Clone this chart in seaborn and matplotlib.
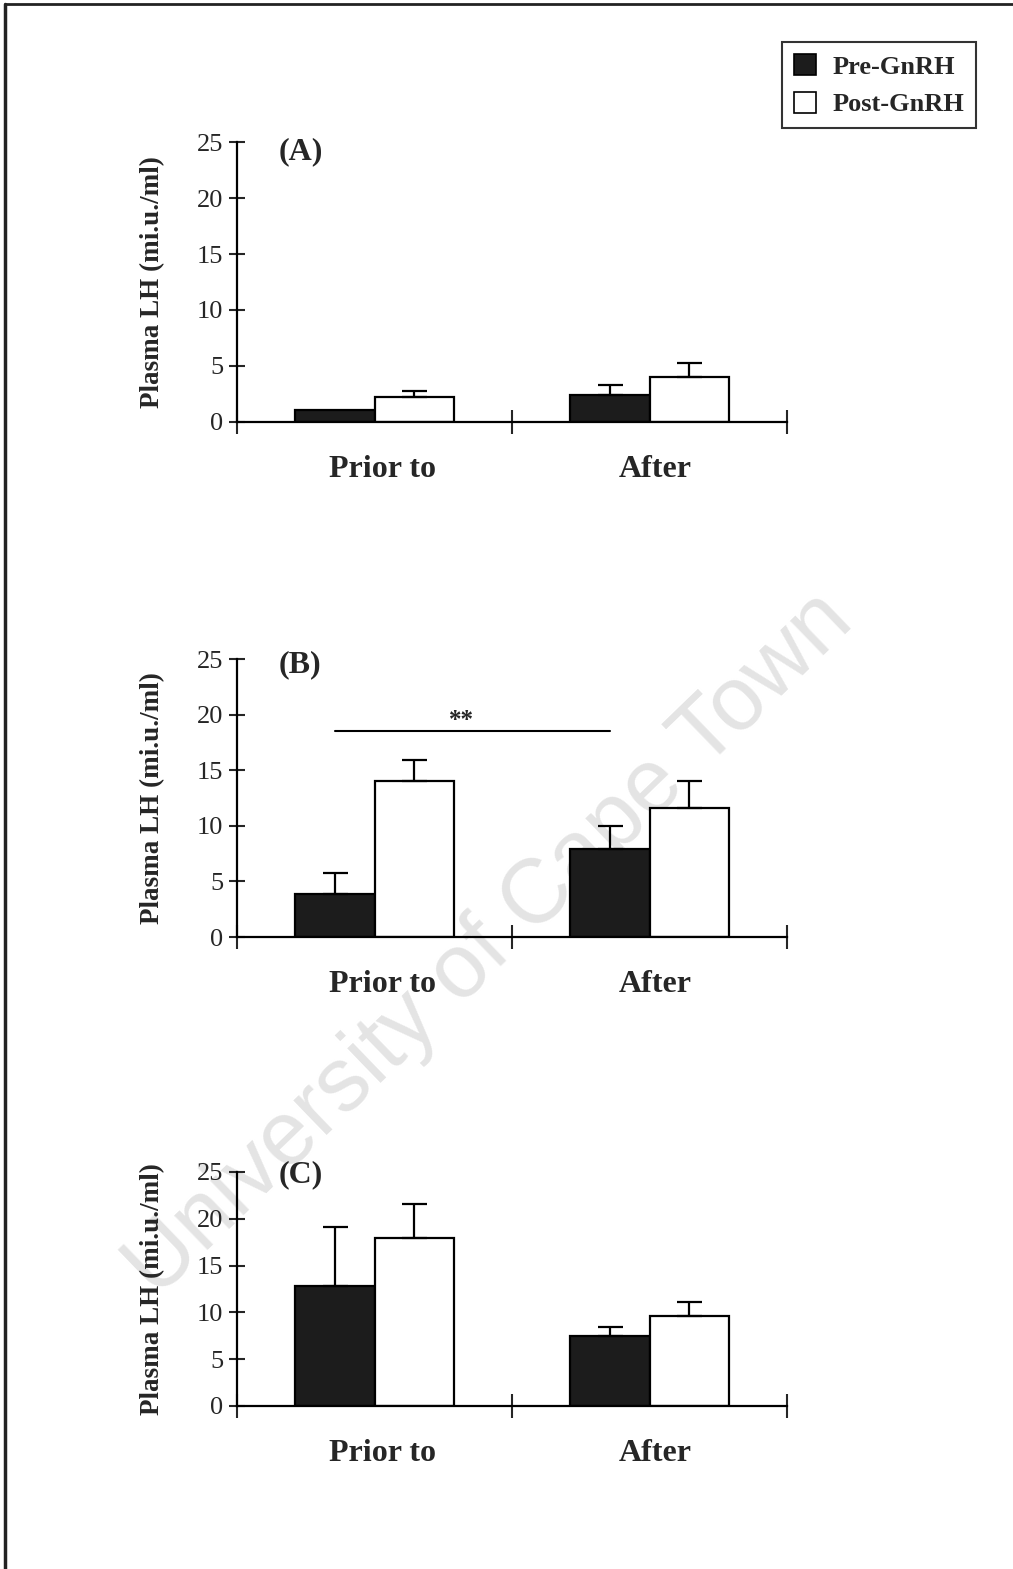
import seaborn as sns
import matplotlib.pyplot as plt
import pandas as pd
from matplotlib.patches import Patch
from matplotlib.lines import Line2D

# values (mean and upper error, mi.u./ml)
periods = ["Prior to", "After"]
treatments = ["Pre-GnRH", "Post-GnRH"]
panels = ["(A)", "(B)", "(C)"]

a_pre = [1.1, 2.4]
a_post = [2.2, 4.0]
a_pre_err = [0.0, 0.9]
a_post_err = [0.6, 1.3]

b_pre = [3.9, 7.9]
b_post = [14.0, 11.6]
b_pre_err = [1.9, 2.1]
b_post_err = [1.9, 2.4]

c_pre = [12.8, 7.5]
c_post = [17.9, 9.6]
c_pre_err = [6.3, 0.9]
c_post_err = [3.7, 1.5]

yticks = [0, 5, 10, 15, 20, 25]

sns.set_theme(style="ticks")
plt.rcParams["font.family"] = ["Liberation Serif", "DejaVu Serif"]

fig = plt.figure(figsize=(10.13, 15.69), dpi=100)
W, H = 1013, 1569

# axes boxes in pixels: left, top, right, bottom
boxes = [(237, 142, 787, 422), (237, 659, 787, 937), (237, 1172, 787, 1406)]
label_y = [0.964, 0.978, 0.987]

all_means = [(a_pre, a_post), (b_pre, b_post), (c_pre, c_post)]
all_errs = [(a_pre_err, a_post_err), (b_pre_err, b_post_err), (c_pre_err, c_post_err)]

colors = {"Pre-GnRH": "#1c1c1c", "Post-GnRH": "white"}

axes = []
for i, (l, t, r, b) in enumerate(boxes):
    ax = fig.add_axes([l / W, 1 - b / H, (r - l) / W, (b - t) / H])
    ax.set_facecolor("none")
    pre, post = all_means[i]
    df = pd.DataFrame({
        "period": periods * 2,
        "treatment": [treatments[0]] * 2 + [treatments[1]] * 2,
        "LH": pre + post,
    })
    sns.barplot(data=df, x="period", y="LH", hue="treatment",
                order=periods, hue_order=treatments, palette=colors,
                width=0.575, errorbar=None, edgecolor="black",
                linewidth=1.6, saturation=1, legend=False, ax=ax)

    # one-sided (upward) error bars on top of each bar
    for cont, errs in zip(ax.containers, all_errs[i]):
        for bar, e in zip(cont, errs):
            if e <= 0:
                continue
            xc = bar.get_x() + bar.get_width() / 2
            h = bar.get_height()
            ax.errorbar(xc, h, yerr=[[0], [e]], fmt="none", ecolor="black",
                        elinewidth=1.6, capsize=9, capthick=1.6, zorder=1)

    ax.set_xlim(-0.5, 1.5)
    ax.set_ylim(0, 25)
    ax.set_yticks(yticks)
    ax.set_xticks([-0.5, 0.5, 1.5])
    ax.set_xticklabels([])
    ax.set_xticks([0.03, 1.02], minor=True)
    ax.set_xticklabels(periods, minor=True, fontsize=23, fontweight="bold")
    ax.tick_params(axis="x", which="major", direction="inout", length=17, width=1.5)
    ax.tick_params(axis="x", which="minor", length=0, pad=24)
    ax.tick_params(axis="y", direction="inout", length=12, width=1.5,
                   labelsize=19, pad=4)
    for s in ["top", "right"]:
        ax.spines[s].set_visible(False)
    for s in ["left", "bottom"]:
        ax.spines[s].set_linewidth(1.6)
        ax.spines[s].set_color("black")
    ax.set_xlabel("")
    ax.set_ylabel("Plasma LH (mi.u./ml)", fontsize=19.5, fontweight="bold")
    ax.yaxis.set_label_coords(-0.13, 0.5)
    ax.text(0.075, label_y[i], panels[i], transform=ax.transAxes,
            fontsize=23, fontweight="bold", va="center", ha="left")
    axes.append(ax)

# significance bar in panel B between the two Pre-GnRH bars
axb = axes[1]
pre_bars = axb.containers[0]
x1 = pre_bars[0].get_x() + pre_bars[0].get_width() / 2
x2 = pre_bars[1].get_x() + pre_bars[1].get_width() / 2
axb.plot([x1, x2], [18.5, 18.5], color="black", lw=1.5)
axb.text((x1 + x2) / 2 - 0.04, 18.4, "**", ha="center", va="bottom",
         fontsize=18, fontweight="bold")

# legend
handles = [Patch(facecolor=colors[t], edgecolor="black", linewidth=1.2) for t in treatments]
leg = fig.legend(handles, treatments, loc="upper right",
                 bbox_to_anchor=(976 / W, 1 - 42 / H), frameon=True, fancybox=False,
                 prop={"family": "Liberation Serif", "weight": "bold", "size": 19},
                 handlelength=0.85, handleheight=0.85, handletextpad=0.6,
                 borderpad=0.45, labelspacing=0.5, borderaxespad=0)
leg.get_frame().set_edgecolor("black")
leg.get_frame().set_linewidth(1.5)

# page frame (left and top edges)
fig.add_artist(Line2D([5 / W, 5 / W], [0, 1 - 4 / H], transform=fig.transFigure,
                      color="#222222", lw=2.5))
fig.add_artist(Line2D([5 / W, 1], [1 - 4 / H, 1 - 4 / H], transform=fig.transFigure,
                      color="#222222", lw=2))

# watermark
fig.text(490 / W, 1 - 945 / H, "University of Cape Town", rotation=44,
         ha="center", va="center", fontsize=65, family="Liberation Sans",
         color="#e4e4e4", zorder=-1)

fig.savefig("out.png", dpi=100)
